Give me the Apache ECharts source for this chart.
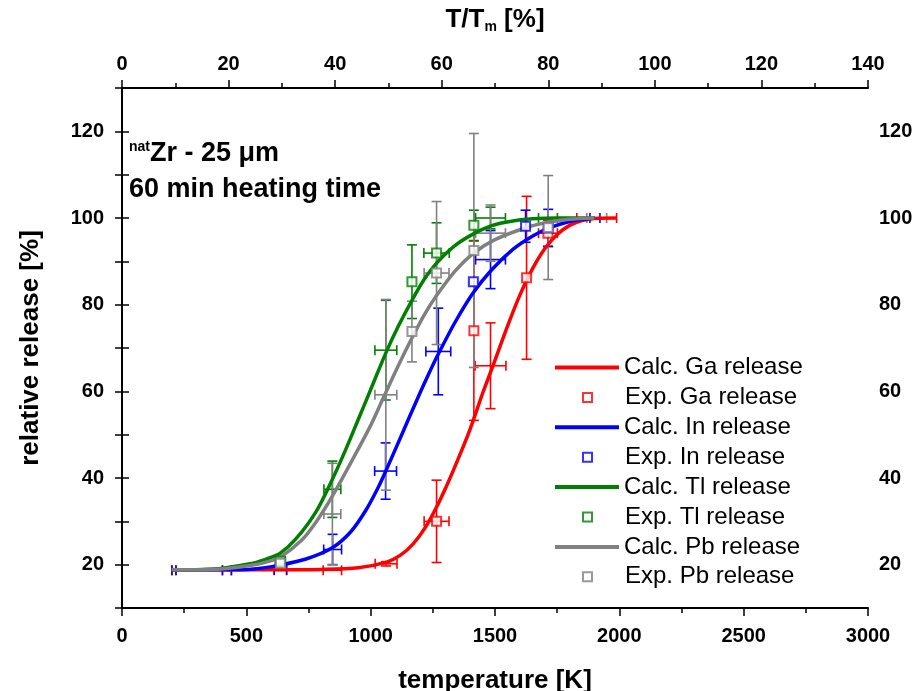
<!DOCTYPE html>
<html>
<head>
<meta charset="utf-8">
<script src="https://cdn.jsdelivr.net/npm/echarts@6/dist/echarts.min.js"></script>
<style>html,body{margin:0;padding:0;background:#fff;}#c{width:915px;height:691px;}</style>
</head>
<body>
<div id="c"></div>
<script>
// ---- data ----
const seriesNames = ['Ga', 'In', 'Tl', 'Pb'];
const yTickLabels = [20, 40, 60, 80, 100, 120];

// calculated release curves [T (K), release (%)]
const gaCalc = [[200,18.8],[400,18.8],[600,18.8],[800,18.9],[950,19.3],[1064,20.6],[1120,22.2],[1171,24.8],[1220,28.6],[1265,33.3],[1310,38.8],[1359,45.4],[1400,51.3],[1450,59.5],[1486,65.0],[1550,75.0],[1600,82.2],[1650,88.2],[1700,92.9],[1750,96.2],[1800,98.3],[1850,99.4],[1900,99.9],[1990,100]];
const inCalc = [[200,18.8],[400,18.8],[530,19.0],[635,19.9],[740,21.3],[846,23.9],[920,27.6],[980,32.5],[1030,37.8],[1060,41.5],[1131,50.8],[1185,57.9],[1230,63.6],[1272,68.6],[1340,76.0],[1413,82.8],[1486,88.0],[1573,92.8],[1650,95.8],[1714,97.6],[1800,99.2],[1902,100]];
const tlCalc = [[200,18.8],[320,18.9],[405,19.2],[515,20.2],[580,21.3],[635,22.6],[700,26.0],[780,32.2],[846,39.7],[900,46.6],[950,53.5],[1000,60.4],[1062,69.0],[1110,74.9],[1166,81.0],[1215,85.8],[1265,89.6],[1340,93.7],[1415,96.4],[1484,98.2],[1560,99.2],[1650,99.8],[1750,100],[1900,100]];
const pbCalc = [[200,18.8],[400,19.0],[515,19.8],[580,20.6],[635,21.7],[720,25.5],[780,29.8],[846,35.8],[920,43.5],[997,51.8],[1051,58.5],[1110,65.8],[1166,72.3],[1215,77.6],[1265,82.1],[1340,87.8],[1414,91.9],[1500,95.0],[1627,97.8],[1714,99.0],[1800,99.7],[1900,100]];

// experimental points with markers [T, release, xErr, yErr]
const gaExp = [[1265,30.0,50,9.5],[1415,74.0,0,20.7],[1627,86.2,0,18.8],[1713,96.5,38,3]];
const inExp = [[1413,85.3,0,0],[1623,98.1,0,3.7],[1714,97.7,0,4.3]];
const tlExp = [[637,20.8,20,1.5],[1166,85.3,0,8.5],[1265,91.9,51,7],[1415,98.3,0,3.5]];
const pbExp = [[637,20.3,20,1],[1166,73.8,0,7],[1265,87.3,50,16.5],[1415,92.5,0,27],[1714,97.8,0,12]];

// error-bar-only points [T, release, xErr, yErr]
const gaBars = [[209,18.7,8,0],[422,18.7,18,0],[637,18.7,25,0],[846,18.7,37,0],[1062,20.2,44,0.5],[1482,65.9,62,9.9],[1909,100,80,0]];
const inBars = [[209,18.7,8,0],[422,18.7,18,0],[637,18.8,25,0],[847,23.5,36,3.5],[1060,41.6,44,6.5],[1272,69.2,50,10],[1482,90.4,60,6.7],[1902,100,20,0]];
const tlBars = [[846,37.4,34,6.5],[1061,69.5,44,11.5],[1482,100,60,2.5],[1713,100,38,0]];
const pbBars = [[846,31.7,34,11.7],[1061,59.2,44,22],[1482,96.5,60,6.5],[1909,100,40,0]];

// ---- chart ----
const FONT = "'Liberation Sans', Arial, Helvetica, sans-serif";
const colors = {Ga:'#ff0000', In:'#0000ff', Tl:'#008000', Pb:'#808080'};
const calc = {Ga:gaCalc, In:inCalc, Tl:tlCalc, Pb:pbCalc};
const exp = {Ga:gaExp, In:inExp, Tl:tlExp, Pb:pbExp};
const bars = {Ga:gaBars, In:inBars, Tl:tlBars, Pb:pbBars};

function errRender(color){
  return function(params, api){
    const x = api.value(0), y = api.value(1), xe = api.value(2), ye = api.value(3);
    const c = api.coord([x, y]);
    const cap = 5, st = {stroke: color, lineWidth: 1.6};
    const ch = [];
    if (xe > 0) {
      const l = api.coord([x - xe, y]), r = api.coord([x + xe, y]);
      ch.push({type:'line', shape:{x1:l[0], y1:c[1], x2:r[0], y2:c[1]}, style:st});
      ch.push({type:'line', shape:{x1:l[0], y1:c[1]-cap, x2:l[0], y2:c[1]+cap}, style:st});
      ch.push({type:'line', shape:{x1:r[0], y1:c[1]-cap, x2:r[0], y2:c[1]+cap}, style:st});
    }
    if (ye > 0) {
      const t = api.coord([x, y + ye]), b = api.coord([x, y - ye]);
      ch.push({type:'line', shape:{x1:c[0], y1:t[1], x2:c[0], y2:b[1]}, style:st});
      ch.push({type:'line', shape:{x1:c[0]-cap, y1:t[1], x2:c[0]+cap, y2:t[1]}, style:st});
      ch.push({type:'line', shape:{x1:c[0]-cap, y1:b[1], x2:c[0]+cap, y2:b[1]}, style:st});
    }
    return {type:'group', children: ch};
  };
}

const series = [];
const legends = [];
const LEG_Y0 = 367.5, LEG_DY = 29.9, LEG_FS = 24;
seriesNames.forEach(function(k){
  series.push({
    type:'custom', name:'err'+k, renderItem: errRender(colors[k]),
    data: exp[k].concat(bars[k]), z: 1, silent: true,
    encode:{x:0, y:1}
  });
});
seriesNames.forEach(function(k, i){
  const col = colors[k];
  series.push({
    type:'line', name:'Calc. '+k+' release', data: calc[k], showSymbol:false, symbol:'none',
    smooth:0.3,
    lineStyle:{color:col, width:3.5}, itemStyle:{color:col}, z: 2
  });
  series.push({
    type:'scatter', name:'Exp. '+k+' release', data: exp[k].map(function(p){return [p[0], p[1]];}),
    symbol:'rect', symbolSize:9,
    itemStyle:{color:'#fff', borderColor:col, borderWidth:2}, z: 3
  });
  const yc1 = LEG_Y0 + (2*i) * LEG_DY, yc2 = LEG_Y0 + (2*i+1) * LEG_DY;
  legends.push({
    orient:'vertical', left:555, top: yc1 - LEG_FS/2, itemWidth:64, itemHeight:4, padding:0,
    selectedMode:false, textStyle:{fontSize:LEG_FS, color:'#000', fontFamily:FONT},
    data:[{name:'Calc. '+k+' release', icon:'rect', itemStyle:{color:col}}]
  });
  const ist = {color:col, borderColor:col, borderWidth:2};
  legends.push({
    orient:'vertical', left:582, top: yc2 - LEG_FS/2, itemWidth:9, itemHeight:9, padding:0,
    selectedMode:false, itemStyle: ist,
    formatter: function(n){ return '{p|}' + n; },
    textStyle:{fontSize:LEG_FS, color:'#000', fontFamily:FONT, rich:{p:{width:28}}},
    data:[{name:'Exp. '+k+' release', icon:'emptyRect', itemStyle: ist}]
  });
});

const axisLbl = {color:'#000', fontWeight:'bold', fontSize:20, fontFamily:FONT};
const nameStyle = {color:'#000', fontWeight:'bold', fontSize:26, fontFamily:FONT};
const lineStyle = {show:true, lineStyle:{color:'#000', width:2}};
const plain = function(v){ return String(v); };

const option = {
  animation:false,
  backgroundColor:'#fff',
  grid:{left:122, right:47, top:88, bottom:83, containLabel:false, outerBoundsMode:'none'},
  legend: legends,
  xAxis:[
    {type:'value', position:'bottom', min:0, max:3000, interval:500,
     axisLine:lineStyle, splitLine:{show:false},
     axisTick:{show:true, inside:false, length:8, lineStyle:{color:'#000', width:1.5}},
     minorTick:{show:true, splitNumber:2, length:5, lineStyle:{color:'#000', width:1.5}},
     axisLabel:Object.assign({margin:18, formatter:plain}, axisLbl),
     name:'temperature [K]', nameLocation:'middle', nameGap:60, nameTextStyle:nameStyle},
    {type:'value', position:'top', min:0, max:140, interval:20,
     axisLine:lineStyle, splitLine:{show:false},
     axisTick:{show:true, inside:false, length:8, lineStyle:{color:'#000', width:1.5}},
     minorTick:{show:true, splitNumber:2, length:5, lineStyle:{color:'#000', width:1.5}},
     axisLabel:Object.assign({margin:14, formatter:plain}, axisLbl),
     name:'{a|T/T}{s|m}{a| [%]}', nameLocation:'middle', nameGap:54,
     nameTextStyle:{rich:{a:nameStyle, s:{color:'#000', fontWeight:'bold', fontSize:14, fontFamily:FONT, verticalAlign:'bottom', padding:[14,0,0,0]}}}}
  ],
  yAxis:[
    {type:'value', position:'left', min:10, max:130, interval:10,
     axisLine:lineStyle, splitLine:{show:false},
     axisTick:{show:true, inside:false, length:7, lineStyle:{color:'#000', width:1.5}},
     axisLabel:Object.assign({margin:18, customValues:yTickLabels, formatter:plain}, axisLbl),
     name:'relative release [%]', nameLocation:'middle', nameGap:78, nameTextStyle:nameStyle},
    {type:'value', position:'right', min:10, max:130, interval:10,
     axisLine:lineStyle, splitLine:{show:false},
     axisTick:{show:true, inside:false, length:7, lineStyle:{color:'#000', width:1.5}},
     axisLabel:Object.assign({margin:11, customValues:yTickLabels, formatter:plain}, axisLbl)}
  ],
  graphic:[
    {type:'text', left:129, top:140, z:10,
     style:{text:'{s|nat}{b|Zr - 25 μm}', rich:{
       s:{fontSize:14, fontWeight:'bold', fill:'#000', fontFamily:FONT, verticalAlign:'top', padding:[0,0,10,0]},
       b:{fontSize:27, fontWeight:'bold', fill:'#000', fontFamily:FONT}}}},
    {type:'text', left:129, top:176, z:10,
     style:{text:'60 min heating time', fontSize:27, fontWeight:'bold', fill:'#000', fontFamily:FONT}}
  ],
  series: series
};

const chart = echarts.init(document.getElementById('c'), null, {renderer:'canvas'});
chart.setOption(option);
</script>
</body>
</html>
